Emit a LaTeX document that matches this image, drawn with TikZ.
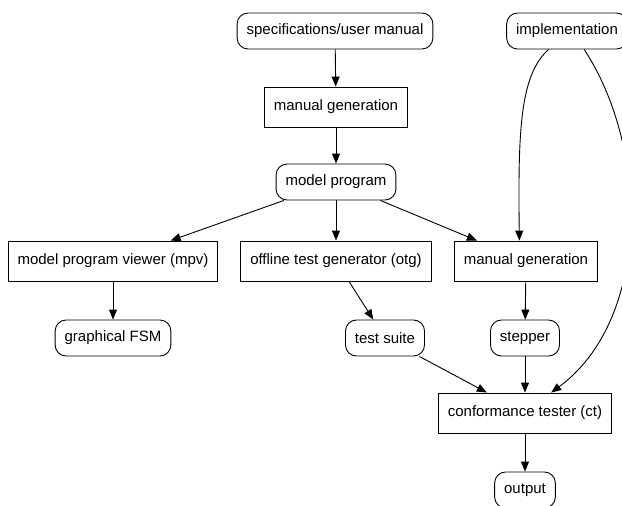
\documentclass[tikz,border=0pt]{standalone}
\usepackage{fontspec}
\setmainfont{Liberation Sans}
\usetikzlibrary{arrows.meta}
\begin{document}
\begin{tikzpicture}[x=1pt,y=-1pt,line width=0.9pt,
  font=\fontsize{15}{18}\selectfont,
  box/.style={shape=rectangle,draw,inner xsep=9.5pt,minimum height=40pt},
  rbox/.style={shape=rectangle,draw,rounded corners=11pt,inner xsep=9.5pt,minimum height=36pt},
  >={Triangle[length=10pt,width=8pt]}]
\useasboundingbox (0,0) rectangle (622,506);
\node(spec) at (335,31)[rbox]      {specifications/user manual};
\node(impl) at (567,31)[rbox]      {implementation};
\node(mgen) at (336,107)[box]      {manual generation};
\node(mp) at (336,182)[rbox]       {model program};
\node(mpv) at (113,261)[box]       {model program viewer (mpv)};
\node(otg) at (336,261)[box]       {offline test generator (otg)};
\node(mgenb) at (526,261)[box]     {manual generation};
\node(fsm) at (113,338)[rbox]      {graphical FSM};
\node(suite) at (385,338)[rbox]    {test suite};
\node(stepper) at (525,338)[rbox]  {stepper};
\node(ct) at (525,413)[box]        {conformance tester (ct)};
\node(out) at (525,490)[rbox]      {output};
\path [->]
  (spec)     edge    (mgen)
  (mgen)     edge    (mp)
  (mp)       edge    (mpv)
  (mp)       edge    (otg)
  (mp)       edge    (mgenb)
  (mpv)      edge    (fsm)
  (otg)      edge    (suite)
  (mgenb)    edge    (stepper)
  (suite)    edge    (ct)
  (stepper)  edge    (ct)
  (ct)       edge    (out);
\draw[->] (impl.-135) .. controls (520,75) and (518,130) .. (mgenb.108);
\draw[->] (impl.-47) .. controls (650,150) and (650,320) .. (ct.38);
\end{tikzpicture}
\end{document}
